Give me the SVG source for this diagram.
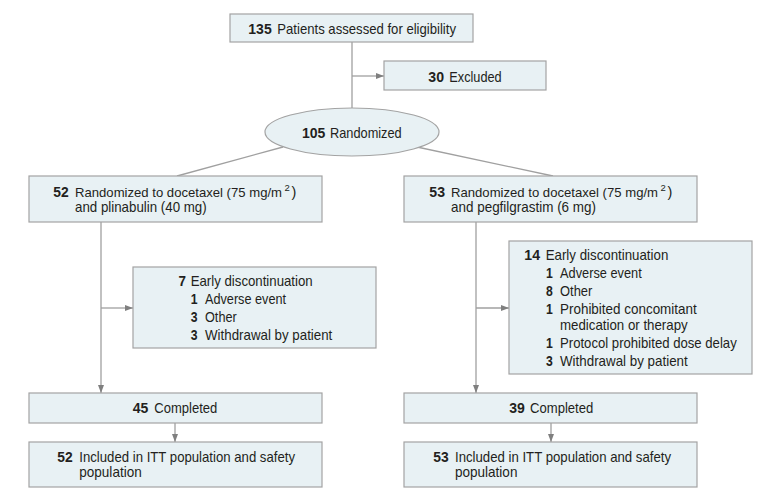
<svg xmlns="http://www.w3.org/2000/svg" width="780" height="499" viewBox="0 0 780 499">
<style>
.box{fill:#e8f1f4;stroke:#a3a3a3;stroke-width:1.2}
.ln{fill:none;stroke:#a0a0a0;stroke-width:1.3}
.ar{fill:none;stroke:#a0a0a0;stroke-width:1.3;marker-end:url(#ah)}
text{font-family:"Liberation Sans",Arial,sans-serif;font-size:14.5px;fill:#231f20}
.b{font-weight:bold}
.arm{font-size:13.1px}
.sup{font-size:9.5px}
</style>
<defs>
<marker id="ah" markerUnits="userSpaceOnUse" markerWidth="8" markerHeight="6" refX="8" refY="3" orient="auto">
<path d="M0,0 L8,3 L0,6 z" fill="#7f7f7f"/>
</marker>
</defs>
<g id="connectors">
<line class="ln" x1="352" y1="42" x2="352" y2="108"/>
<line class="ar" x1="352" y1="76" x2="384" y2="76"/>
<line class="ln" x1="283" y1="147" x2="177" y2="176"/>
<line class="ln" x1="417" y1="147" x2="553" y2="176"/>
<line class="ar" x1="101" y1="222" x2="101" y2="393"/>
<line class="ar" x1="101" y1="308" x2="133" y2="308"/>
<line class="ar" x1="476" y1="222" x2="476" y2="393"/>
<line class="ar" x1="476" y1="308" x2="509" y2="308"/>
<line class="ar" x1="175" y1="423" x2="175" y2="442"/>
<line class="ar" x1="551" y1="423" x2="551" y2="442"/>
</g>
<g id="n_assessed">
<rect class="box" x="230" y="14" width="243" height="28"/>
<text class="b" x="248.3" y="34" textLength="23.4" lengthAdjust="spacingAndGlyphs">135</text>
<text x="277.3" y="34" textLength="178.7" lengthAdjust="spacingAndGlyphs">Patients assessed for eligibility</text>
</g>
<g id="n_excluded">
<rect class="box" x="384" y="61" width="162" height="29"/>
<text class="b" x="428.3" y="81.5" textLength="15.7" lengthAdjust="spacingAndGlyphs">30</text>
<text x="449.3" y="81.5" textLength="52.4" lengthAdjust="spacingAndGlyphs">Excluded</text>
</g>
<g id="n_randomized">
<ellipse class="box" cx="352" cy="132" rx="87" ry="24"/>
<text class="b" x="302" y="138" textLength="23.4" lengthAdjust="spacingAndGlyphs">105</text>
<text x="330" y="138" textLength="71.7" lengthAdjust="spacingAndGlyphs">Randomized</text>
</g>
<g id="n_arm_a">
<rect class="box" x="29" y="176" width="293" height="46"/>
<text class="b" x="53.3" y="196.7" textLength="15.4" lengthAdjust="spacingAndGlyphs">52</text>
<text class="arm" x="75" y="196.7" textLength="207" lengthAdjust="spacingAndGlyphs">Randomized to docetaxel (75 mg/m</text>
<text class="sup" x="284.5" y="191">2</text>
<text x="291.5" y="196.7">)</text>
<text x="75" y="211.5" textLength="131.7" lengthAdjust="spacingAndGlyphs">and plinabulin (40 mg)</text>
</g>
<g id="n_arm_b">
<rect class="box" x="404" y="176" width="293" height="46"/>
<text class="b" x="429.3" y="196.7" textLength="15.7" lengthAdjust="spacingAndGlyphs">53</text>
<text class="arm" x="451" y="196.7" textLength="207" lengthAdjust="spacingAndGlyphs">Randomized to docetaxel (75 mg/m</text>
<text class="sup" x="660.5" y="191">2</text>
<text x="667.5" y="196.7">)</text>
<text x="451" y="211.5" textLength="145" lengthAdjust="spacingAndGlyphs">and pegfilgrastim (6 mg)</text>
</g>
<g id="n_disc_a">
<rect class="box" x="133" y="267" width="243" height="81"/>
<text class="b" x="178.5" y="285.7" textLength="7.5" lengthAdjust="spacingAndGlyphs">7</text>
<text x="190.7" y="285.7" textLength="122" lengthAdjust="spacingAndGlyphs">Early discontinuation</text>
<text class="b" x="190.7" y="303.7" textLength="6.8" lengthAdjust="spacingAndGlyphs">1</text>
<text x="205" y="303.7" textLength="81" lengthAdjust="spacingAndGlyphs">Adverse event</text>
<text class="b" x="190.7" y="321.7" textLength="6.8" lengthAdjust="spacingAndGlyphs">3</text>
<text x="205" y="321.7" textLength="31.7" lengthAdjust="spacingAndGlyphs">Other</text>
<text class="b" x="190.7" y="339.5" textLength="6.8" lengthAdjust="spacingAndGlyphs">3</text>
<text x="205" y="339.5" textLength="127.3" lengthAdjust="spacingAndGlyphs">Withdrawal by patient</text>
</g>
<g id="n_disc_b">
<rect class="box" x="509" y="241" width="243" height="133"/>
<text class="b" x="524.3" y="260" textLength="15.7" lengthAdjust="spacingAndGlyphs">14</text>
<text x="545.7" y="260" textLength="122.6" lengthAdjust="spacingAndGlyphs">Early discontinuation</text>
<text class="b" x="546" y="278" textLength="6.8" lengthAdjust="spacingAndGlyphs">1</text>
<text x="560" y="278" textLength="81.7" lengthAdjust="spacingAndGlyphs">Adverse event</text>
<text class="b" x="546" y="296" textLength="6.8" lengthAdjust="spacingAndGlyphs">8</text>
<text x="560" y="296" textLength="32.3" lengthAdjust="spacingAndGlyphs">Other</text>
<text class="b" x="546" y="314" textLength="6.8" lengthAdjust="spacingAndGlyphs">1</text>
<text x="560" y="314" textLength="136.7" lengthAdjust="spacingAndGlyphs">Prohibited concomitant</text>
<text x="560" y="330" textLength="127.7" lengthAdjust="spacingAndGlyphs">medication or therapy</text>
<text class="b" x="546" y="348" textLength="6.8" lengthAdjust="spacingAndGlyphs">1</text>
<text x="560" y="348" textLength="176.7" lengthAdjust="spacingAndGlyphs">Protocol prohibited dose delay</text>
<text class="b" x="546" y="366" textLength="6.8" lengthAdjust="spacingAndGlyphs">3</text>
<text x="560" y="366" textLength="127.7" lengthAdjust="spacingAndGlyphs">Withdrawal by patient</text>
</g>
<g id="n_completed_a">
<rect class="box" x="29" y="393" width="293" height="30"/>
<text class="b" x="132.7" y="413.3" textLength="15.6" lengthAdjust="spacingAndGlyphs">45</text>
<text x="154.3" y="413.3" textLength="63" lengthAdjust="spacingAndGlyphs">Completed</text>
</g>
<g id="n_completed_b">
<rect class="box" x="404" y="393" width="293" height="30"/>
<text class="b" x="509.3" y="413.3" textLength="15.6" lengthAdjust="spacingAndGlyphs">39</text>
<text x="530" y="413.3" textLength="63.3" lengthAdjust="spacingAndGlyphs">Completed</text>
</g>
<g id="n_itt_a">
<rect class="box" x="29" y="442" width="293" height="45"/>
<text class="b" x="57.3" y="461.7" textLength="15.4" lengthAdjust="spacingAndGlyphs">52</text>
<text x="79.3" y="461.7" textLength="215.7" lengthAdjust="spacingAndGlyphs">Included in ITT population and safety</text>
<text x="79.3" y="476.7" textLength="62.4" lengthAdjust="spacingAndGlyphs">population</text>
</g>
<g id="n_itt_b">
<rect class="box" x="404" y="442" width="293" height="45"/>
<text class="b" x="433.3" y="461.7" textLength="15.4" lengthAdjust="spacingAndGlyphs">53</text>
<text x="455" y="461.7" textLength="216" lengthAdjust="spacingAndGlyphs">Included in ITT population and safety</text>
<text x="455" y="476.7" textLength="62.4" lengthAdjust="spacingAndGlyphs">population</text>
</g>
</svg>
